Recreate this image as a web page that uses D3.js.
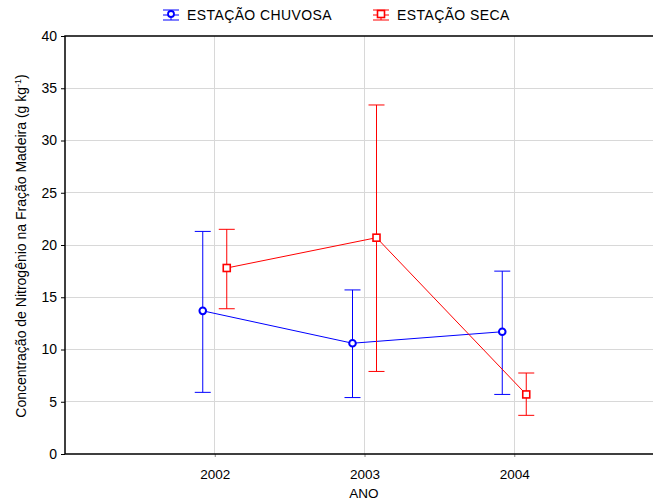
<!DOCTYPE html>
<html><head><meta charset="utf-8">
<script src="https://cdn.jsdelivr.net/npm/d3@7/dist/d3.min.js"></script>
<style>body{margin:0;background:#fff}svg{font-family:"Liberation Sans",Arial,sans-serif}</style>
</head><body><svg id="c" width="653" height="504"></svg>
<script>
const years = ["2002","2003","2004"];
const yTicks = [0,5,10,15,20,25,30,35,40];
const chuvosaMean = [13.7, 10.6, 11.7];
const chuvosaLow  = [5.9, 5.4, 5.7];
const chuvosaHigh = [21.3, 15.7, 17.5];
const secaMean = [17.8, 20.7, 5.7];
const secaLow  = [13.9, 7.9, 3.7];
const secaHigh = [21.5, 33.4, 7.75];

const svg = d3.select("#c");
const L = 65, R = 664, T = 36, B = 454;
const x = d3.scalePoint().domain(["", ...years, " "]).range([L, R]);
const y = d3.scaleLinear().domain([0, 40]).range([B, T]);

// grid
svg.append("g").selectAll("line").data(yTicks.filter(d => d > 0 && d < 40)).join("line")
  .attr("x1", L).attr("x2", 653).attr("y1", d => y(d)).attr("y2", d => y(d))
  .attr("stroke", "#d8d8d8").attr("stroke-width", 1).attr("shape-rendering","crispEdges");
svg.append("g").selectAll("line").data(years).join("line")
  .attr("x1", d => x(d)).attr("x2", d => x(d)).attr("y1", T).attr("y2", B)
  .attr("stroke", "#d8d8d8").attr("stroke-width", 1).attr("shape-rendering","crispEdges");

// axes
const yAxis = d3.axisLeft(y).tickValues(yTicks).tickSize(4).tickPadding(4);
const gy = svg.append("g").attr("transform", `translate(${L},0)`).call(yAxis);
gy.select(".domain").remove();
gy.selectAll("text").attr("font-size", 14).attr("fill", "#000").attr("font-family", "Liberation Sans, Arial, sans-serif");
gy.selectAll("line").attr("stroke", "#000");

const xAxis = d3.axisBottom(x).tickValues(years).tickSize(3).tickPadding(12);
const gx = svg.append("g").attr("transform", `translate(0,${B})`).call(xAxis);
gx.select(".domain").remove();
gx.selectAll("text").attr("font-size", 13.5).attr("fill", "#000").attr("font-family", "Liberation Sans, Arial, sans-serif");
gx.selectAll("line").attr("stroke", "#888");

// frame: left, top, bottom
svg.append("path").attr("d", `M653,${T}H${L}V${B}H653`).attr("fill","none").attr("stroke","#000").attr("stroke-width",1.5);

// axis titles
svg.append("text").attr("x", 364).attr("y", 498).attr("text-anchor","middle").attr("font-size",13.5).text("ANO");
const yt = svg.append("text").attr("transform", `translate(26,${(T+B)/2+1}) rotate(-90)`).attr("text-anchor","middle").attr("font-size",14);
yt.append("tspan").text("Concentração de Nitrogênio na Fração Madeira (g kg");
yt.append("tspan").attr("dy",-5).attr("font-size",9).text("-1");
yt.append("tspan").attr("dy",5).text(")");

function series(mean, low, high, color, off, marker) {
  const g = svg.append("g");
  const xs = years.map(d => x(d) + off);
  g.append("path").datum(mean).attr("d", d3.line().x((d,i) => xs[i]).y(d => y(d)))
    .attr("fill","none").attr("stroke",color).attr("stroke-width",1);
  years.forEach((yr,i) => {
    g.append("line").attr("x1",xs[i]).attr("x2",xs[i]).attr("y1",y(low[i])).attr("y2",y(high[i])).attr("stroke",color).attr("stroke-width",1);
    [low[i],high[i]].forEach(v => g.append("line").attr("x1",xs[i]-8).attr("x2",xs[i]+8).attr("y1",y(v)).attr("y2",y(v)).attr("stroke",color).attr("stroke-width",1));
    if (marker === "circle") g.append("circle").attr("cx",xs[i]).attr("cy",y(mean[i])).attr("r",3.3).attr("fill","#fff").attr("stroke",color).attr("stroke-width",2);
    else g.append("rect").attr("x",xs[i]-3.5).attr("y",y(mean[i])-3.5).attr("width",7).attr("height",7).attr("fill","#fff").attr("stroke",color).attr("stroke-width",1.6);
  });
}
series(chuvosaMean, chuvosaLow, chuvosaHigh, "#0000ff", -12, "circle");
series(secaMean, secaLow, secaHigh, "#ff0000", 12, "rect");

// legend
function legend(lx, color, marker, label) {
  const g = svg.append("g");
  const cy = 15;
  g.append("line").attr("x1",lx-8).attr("x2",lx+8).attr("y1",cy-5).attr("y2",cy-5).attr("stroke",color);
  g.append("line").attr("x1",lx-8).attr("x2",lx+8).attr("y1",cy+5).attr("y2",cy+5).attr("stroke",color);
  g.append("line").attr("x1",lx).attr("x2",lx).attr("y1",cy-5).attr("y2",cy+5).attr("stroke",color);
  g.append("line").attr("x1",lx-8).attr("x2",lx+8).attr("y1",cy).attr("y2",cy).attr("stroke",color);
  if (marker === "circle") g.append("circle").attr("cx",lx).attr("cy",cy-1).attr("r",3).attr("fill","#fff").attr("stroke",color).attr("stroke-width",1.8);
  else g.append("rect").attr("x",lx-3.5).attr("y",cy-4.5).attr("width",7).attr("height",7).attr("fill","#fff").attr("stroke",color).attr("stroke-width",1.6);
  g.append("text").attr("x",lx+16).attr("y",cy+5).attr("font-size",14).attr("letter-spacing",0.4).text(label);
}
legend(171, "#0000ff", "circle", "ESTAÇÃO CHUVOSA");
legend(381, "#ff0000", "rect", "ESTAÇÃO SECA");
</script></body></html>
